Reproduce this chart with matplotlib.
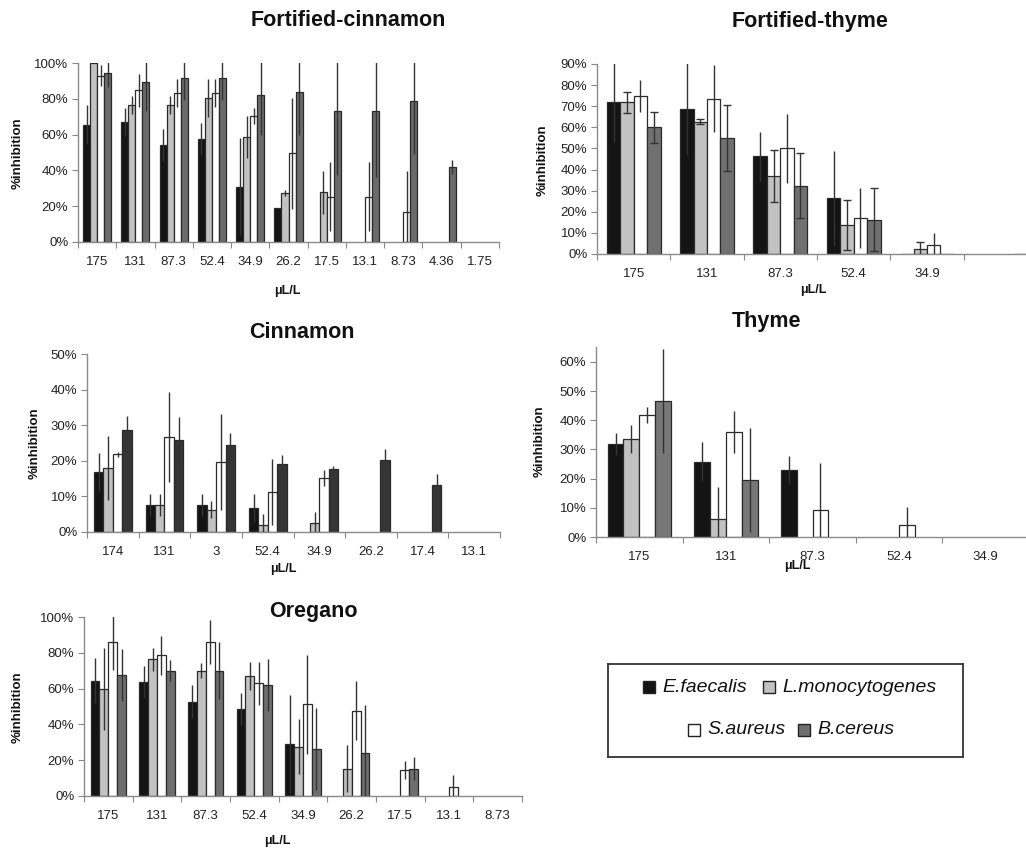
import matplotlib
matplotlib.use("Agg")
import matplotlib.pyplot as plt
from matplotlib.patches import Rectangle
from matplotlib.ticker import PercentFormatter
import numpy as np

plt.rcParams['font.family'] = ['Liberation Sans', 'DejaVu Sans']

W, H = 1026, 849

species = ["E.faecalis", "L.monocytogenes", "S.aureus", "B.cereus"]

# Fortified-cinnamon
fc_labels = ["175", "131", "87.3", "52.4", "34.9", "26.2", "17.5", "13.1", "8.73", "4.36", "1.75"]
fc_ef = [65.5, 67, 54, 57.7, 31, 19, None, None, None, None, None]
fc_ef_err = [11, 8, 9, 9, 27, 0, 0, 0, 0, 0, 0]
fc_lm = [100, 76.4, 76.4, 80.4, 58.7, 27.4, 27.9, None, None, None, None]
fc_lm_err = [0, 5, 5, 10.4, 11.7, 1.5, 12, 0, 0, 0, 0]
fc_sa = [93, 84.7, 83.2, 83.2, 70.4, 49.7, 25.3, 25.3, 16.8, None, None]
fc_sa_err = [5.7, 9.3, 8, 8, 4.7, 31, 19.4, 19.4, 23, 0, 0]
fc_bc = [94.6, 89.2, 91.6, 91.6, 82, 83.6, 73.4, 73.4, 79, 41.9, None]
fc_bc_err = [8, 16, 12, 12, 22, 23.6, 36, 37, 30, 3.7, 0]

# Fortified-thyme
ft_labels = ["175", "131", "87.3", "52.4", "34.9", ""]
ft_ef = [72.2, 68.9, 46.2, 26.3, 0.2, None]
ft_ef_err = [19, 22, 11.7, 22.7, 0, 0]
ft_lm = [71.9, 62.7, 37, 13.7, 2.2, None]
ft_lm_err = [5, 1.3, 12.5, 11.7, 3.3, 0]
ft_sa = [74.9, 73.5, 50.1, 16.9, 4.4, None]
ft_sa_err = [7.5, 15.8, 16.4, 14.2, 5.5, 0]
ft_bc = [60, 54.9, 32.3, 16.2, 0.2, 0.2]
ft_bc_err = [7.3, 15.6, 15.4, 15, 0, 0]

# Cinnamon
cin_labels = ["174", "131", "3", "52.4", "34.9", "26.2", "17.4", "13.1"]
cin_ef = [16.8, 7.6, 7.6, 6.8, None, None, None, None]
cin_ef_err = [5.4, 3, 3, 4, 0, 0, 0, 0]
cin_lm = [18, 7.6, 6.3, 2, 2.5, None, None, None]
cin_lm_err = [9.1, 3, 2.5, 3, 3, 0, 0, 0]
cin_sa = [21.9, 26.7, 19.7, 11.2, 15.2, None, None, None]
cin_sa_err = [0.7, 12.6, 13.4, 9.2, 2.2, 0, 0, 0]
cin_bc = [28.7, 25.9, 24.3, 19.2, 17.7, 20.3, 13.3, None]
cin_bc_err = [4, 6.5, 3.4, 2.5, 0.9, 3, 3, 0]

# Thyme
thy_labels = ["175", "131", "87.3", "52.4", "34.9"]
thy_ef = [31.8, 25.8, 22.9, None, None]
thy_ef_err = [3.8, 6.7, 4.8, 0, 0]
thy_lm = [33.6, 6.3, None, None, None]
thy_lm_err = [4.9, 10.7, 0, 0, 0]
thy_sa = [41.9, 36.1, 9.4, 4.0, None]
thy_sa_err = [2.8, 7.2, 15.8, 6.3, 0]
thy_bc = [46.5, 19.5, None, None, None]
thy_bc_err = [17.8, 17.9, 0, 0, 0]

# Oregano
ore_labels = ["175", "131", "87.3", "52.4", "34.9", "26.2", "17.5", "13.1", "8.73"]
ore_ef = [64.5, 63.6, 52.7, 48.6, 29, None, None, None, None]
ore_ef_err = [12.5, 8.8, 9.3, 9.2, 27.4, 0, 0, 0, 0]
ore_lm = [59.8, 76.4, 70.1, 67.1, 27.5, 15.3, None, None, None]
ore_lm_err = [22.7, 6.3, 4.2, 8, 15.4, 13, 0, 0, 0]
ore_sa = [86, 78.5, 86, 63, 51.2, 47.7, 14.4, 5, None]
ore_sa_err = [15.6, 11, 12.2, 12.1, 27.8, 16.5, 5, 7, 0]
ore_bc = [67.7, 70.1, 70.1, 62, 26.5, 24.1, 15.3, None, None]
ore_bc_err = [14.5, 6, 15.7, 14.5, 22.9, 26.7, 6.3, 0, 0]


def px(x, y):
    return x / W, 1 - y / H


def make_axes(left, right, bottom_px, top_px):
    return fig.add_axes([left / W, 1 - bottom_px / H, (right - left) / W, (bottom_px - top_px) / H])


def draw_panel(ax, labels, series, errs, bc_color, ymax, ytop, ystep, caps=(0, 0, 0, 0)):
    colors = ["#141414", "#c2c2c2", "#ffffff", bc_color]
    n = len(labels)
    w = 0.183
    for k in range(4):
        xs, hs, es = [], [], []
        for i, v in enumerate(series[k]):
            if v is None:
                continue
            xs.append(i + 0.5 + (k - 1.5) * w)
            hs.append(v)
            es.append(errs[k][i])
        ax.bar(xs, hs, width=w, color=colors[k], edgecolor="#2a2a2a", linewidth=0.9, zorder=2)
        xe = [x for x, e in zip(xs, es) if e > 0]
        he = [h for h, e in zip(hs, es) if e > 0]
        ee = [e for e in es if e > 0]
        if ee:
            ax.errorbar(xe, he, yerr=ee, fmt="none", ecolor="#333333", elinewidth=1.0,
                        capsize=caps[k], capthick=1.0, zorder=3)
    ax.set_xlim(0, n)
    ax.set_ylim(0, ytop)
    ax.set_yticks(np.arange(0, ymax + 0.1, ystep))
    ax.yaxis.set_major_formatter(PercentFormatter(xmax=100, decimals=0))
    ax.set_xticks(np.arange(0, n + 1))
    ax.set_xticklabels([])
    ax.set_xticks(np.arange(n) + 0.5, labels, minor=True)
    ax.tick_params(axis="x", which="major", length=4, color="#888888", direction="out")
    ax.tick_params(axis="x", which="minor", length=0, pad=10, labelsize=9.5, labelcolor="#222222")
    ax.tick_params(axis="y", length=4, color="#888888", pad=3, labelsize=9.5, labelcolor="#222222")
    for s in ["top", "right"]:
        ax.spines[s].set_visible(False)
    for s in ["left", "bottom"]:
        ax.spines[s].set_color("#8a8a8a")
        ax.spines[s].set_linewidth(1.0)
    ax.set_facecolor("none")


fig = plt.figure(figsize=(W / 100, H / 100), dpi=100)

ax1 = make_axes(78, 499, 242, 63)
draw_panel(ax1, fc_labels, [fc_ef, fc_lm, fc_sa, fc_bc],
           [fc_ef_err, fc_lm_err, fc_sa_err, fc_bc_err], "#6b6b6b", 100, 100, 20)

ax2 = make_axes(597, 1037, 254, 64)
draw_panel(ax2, ft_labels, [ft_ef, ft_lm, ft_sa, ft_bc],
           [ft_ef_err, ft_lm_err, ft_sa_err, ft_bc_err], "#707070", 90, 90, 10, caps=(0, 3, 0, 3))

ax3 = make_axes(87, 500, 532, 354)
draw_panel(ax3, cin_labels, [cin_ef, cin_lm, cin_sa, cin_bc],
           [cin_ef_err, cin_lm_err, cin_sa_err, cin_bc_err], "#353535", 50, 50, 10)

ax4 = make_axes(596, 1029, 537, 347.4)
draw_panel(ax4, thy_labels, [thy_ef, thy_lm, thy_sa, thy_bc],
           [thy_ef_err, thy_lm_err, thy_sa_err, thy_bc_err], "#777777", 60, 65, 10)

ax5 = make_axes(84, 522, 796, 617)
draw_panel(ax5, ore_labels, [ore_ef, ore_lm, ore_sa, ore_bc],
           [ore_ef_err, ore_lm_err, ore_sa_err, ore_bc_err], "#6e6e6e", 100, 100, 20)

# titles
titles = [("Fortified-cinnamon", 348, 21), ("Fortified-thyme", 810, 22),
          ("Cinnamon", 302, 333), ("Thyme", 766, 321), ("Oregano", 313, 612)]
for t, x, y in titles:
    fig.text(*px(x, y), t, ha="center", va="center", fontsize=15.5, fontweight="bold", color="#111111")

# y labels
for x, y in [(18, 153), (543, 160), (35, 443), (540, 441), (18, 707)]:
    fig.text(*px(x, y), "%inhibition", rotation=90, ha="center", va="center",
             fontsize=9.5, fontweight="bold", color="#111111")

# x labels
for x, y in [(287, 291), (813, 290), (283, 569), (797, 566), (277, 841)]:
    fig.text(*px(x, y), "\u03bcL/L", ha="center", va="center", fontsize=9, fontweight="bold", color="#111111")

# legend box
lax = fig.add_axes([608 / W, 1 - 757 / H, 355 / W, 93 / H])
lax.set_xlim(0, 355)
lax.set_ylim(93, 0)
lax.set_xticks([])
lax.set_yticks([])
for s in lax.spines.values():
    s.set_color("#333333")
    s.set_linewidth(1.3)
leg_colors = ["#141414", "#c2c2c2", "#ffffff", "#707070"]
leg_pos = [(35, 23), (155, 23), (80, 66), (190, 66)]
for name, c, (lx, ly) in zip(species, leg_colors, leg_pos):
    lax.add_patch(Rectangle((lx, ly - 6), 12, 12, facecolor=c, edgecolor="#222222", linewidth=1.0))
    lax.text(lx + 19, ly, name, ha="left", va="center", fontsize=14, style="italic", color="#111111")

fig.savefig("out.png", dpi=100)
